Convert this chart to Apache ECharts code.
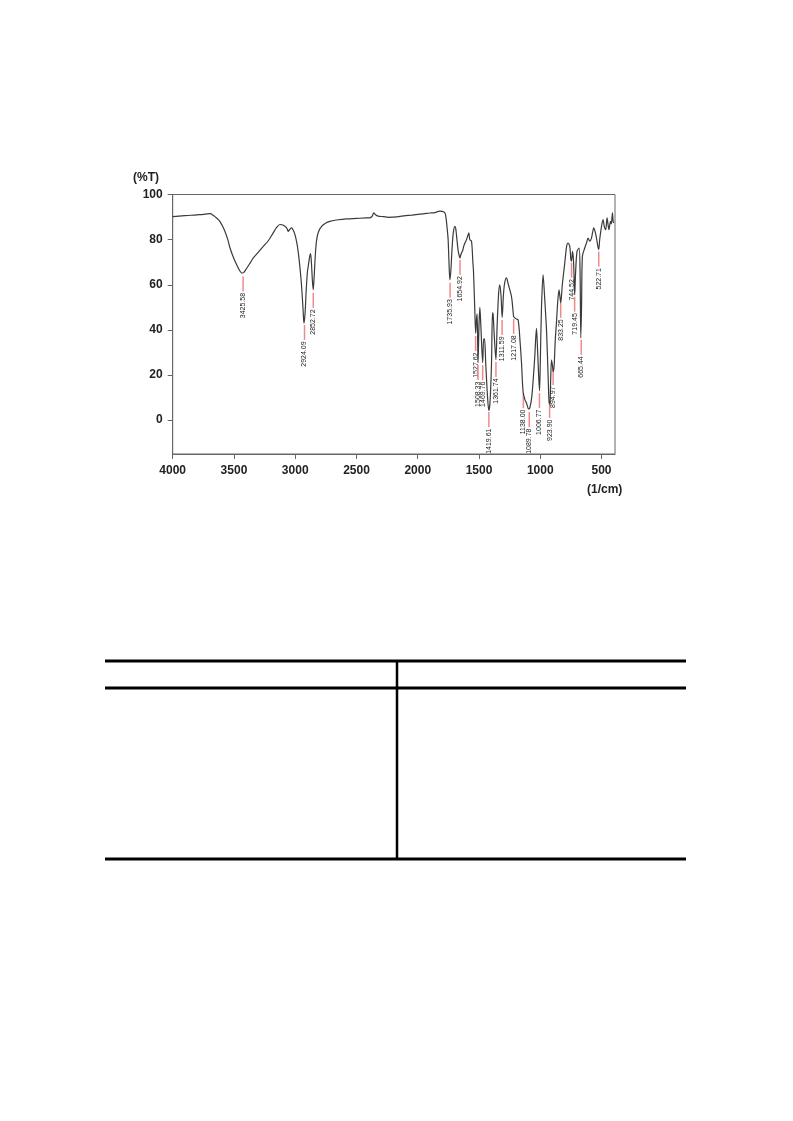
<!DOCTYPE html>
<html>
<head>
<meta charset="utf-8">
<script src="https://cdn.jsdelivr.net/npm/echarts@6/dist/echarts.min.js"></script>
<style>
html,body{margin:0;padding:0;background:#fff;}
#c{width:793px;height:1121px;}
</style>
</head>
<body>
<div id="c"></div>
<script>
// ---- data ----
const wavenumbers = [4000,3950,3900,3850,3800,3750,3720,3694,3670,3640,3614,3580,3550,3532,3500,3470,3450,3437,3420,3400,3370,3342,3300,3261,3220,3180,3150,3125,3100,3070,3057,3045,3029,3015,3002,2985,2970,2955,2945,2935,2929,2920,2910,2900,2894,2882,2875,2868,2860,2853,2845,2835,2825,2810,2785,2750,2717,2650,2581,2500,2420,2391,2370,2360,2345,2323,2280,2240,2200,2173,2100,2050,2000,1956,1900,1860,1820,1800,1779,1770,1760,1752,1745,1738,1730,1720,1710,1697,1690,1680,1670,1660,1656,1650,1640,1635,1625,1615,1602,1590,1583,1575,1561,1550,1545,1535,1527,1520,1515,1508,1500,1493,1485,1470,1462,1455,1445,1430,1420,1410,1398,1390,1385,1375,1362,1352,1340,1330,1320,1311,1300,1290,1276,1260,1235,1225,1218,1214,1200,1181,1165,1153,1140,1125,1112,1095,1085,1070,1058,1045,1031,1025,1015,1006,1000,990,977,965,949,935,928,921,915,908,900,895,887,878,868,858,847,840,833,820,800,785,773,759,751,745,737,728,719,712,700,683,675,669,663,656,637,620,610,596,582,563,550,541,530,523,515,500,487,478,466,455,445,439,427,420,411,405,400];
const transmittance = [90.2,90.4,90.6,90.8,91.0,91.2,91.4,91.5,90.8,89.5,88.0,84.5,80,76.3,71.5,68,66,65.2,65.5,67,69.5,71.9,74.5,77,79.5,83,85.5,86.7,86.5,85.2,83.7,84.5,85.2,84,82.2,78,72,64,57,48,43,47,58,66,68.1,72.5,73.8,70,62,57.8,64,74,80,83.5,85.9,87.4,88.1,88.8,89.2,89.4,89.6,89.6,90.5,91.9,91.0,90.4,90.2,89.9,90.0,90.1,90.6,90.9,91.2,91.4,91.8,92.0,92.6,92.5,91.9,90,85,80,70,62.2,66,76,83,85.9,85,80,75,72.5,71.9,73,74.5,74.8,77,78.5,80,82,83,80,79.3,70,66,50,38.5,45,47,25.5,42,50,42,25.5,36,36,25,10,4.2,8,25,47.5,47,37,26.8,42,56,60,55,45.5,56,61,63.1,60,54.8,50,46,45.9,45,44.4,35,25.3,12.5,9,7.5,5,5.5,10,17.8,28,40.7,35,22,13,25,50,64.4,55,40,18,8,7,18,26.7,24,21.5,24,35,43,52,57.8,55,52,60,69.6,77,78.5,77,71.5,70.5,74.8,70,55.5,65,74.8,76.3,65,36.5,50,72.6,76.3,79,80.7,79.3,80.7,85.2,83,80.7,77,75.6,80,85.9,88.9,86,84.4,89.6,86,84.4,88.1,87,91.9,88,87.4];

const peakLabels = ["3425.58","2924.09","2852.72","1735.93","1654.92","1527.62","1508.33","1469.76","1419.61","1361.74","1311.59","1217.08","1138.00","1089.78","1006.77","923.90","894.97","833.25","744.52","719.45","665.44","522.71"];
const peakWn = [3425.58,2924.09,2852.72,1735.93,1654.92,1527.62,1508.33,1469.76,1419.61,1361.74,1311.59,1217.08,1138.00,1089.78,1006.77,923.90,894.97,833.25,744.52,719.45,665.44,522.71];
const peakMarkT = [63.7,42.2,56.4,60.9,71.1,37.3,24.4,24.4,3.6,25.8,44.4,44.9,12,3.6,12,7.6,22.2,52,69.8,54.7,35.6,74.7];

const xTicks = [4000,3500,3000,2500,2000,1500,1000,500];
const yTicks = [0,20,40,60,80,100];
const xUnit = "(1/cm)";
const yUnit = "(%T)";

// ---- chart ----
const spectrum = wavenumbers.map((w,i)=>[w, transmittance[i]]);
const peaks = peakWn.map((w,i)=>[w, peakMarkT[i]]);

const chart = echarts.init(document.getElementById('c'), null, {renderer:'canvas'});
const FONT = "'Liberation Sans', Arial, sans-serif";
const axisColor = '#666';

chart.setOption({
  animation:false,
  backgroundColor:'#fff',
  grid:{left:172.7, right:178, top:194.5, bottom:667, show:true, borderColor:axisColor, borderWidth:1},
  xAxis:{
    type:'value', inverse:true, min:390, max:4000,
    axisLine:{onZero:false, lineStyle:{color:axisColor,width:1}},
    axisTick:{show:true, length:5, inside:false, customValues:xTicks, lineStyle:{color:axisColor}},
    axisLabel:{customValues:xTicks, margin:11, color:'#222', fontFamily:FONT, fontWeight:'bold', fontSize:12,
      formatter:function(v){return String(v);}},
    splitLine:{show:false}
  },
  yAxis:{
    type:'value', min:-15, max:100,
    axisLine:{show:true, onZero:false, lineStyle:{color:axisColor,width:1}},
    axisTick:{show:true, length:5, inside:false, customValues:yTicks, lineStyle:{color:axisColor}},
    axisLabel:{customValues:yTicks, margin:10, color:'#222', fontFamily:FONT, fontWeight:'bold', fontSize:12,
      formatter:function(v){return String(v);}},
    splitLine:{show:false}
  },
  graphic:[
    {type:'text', left:133, top:172, style:{text:yUnit, font:"bold 12px 'Liberation Sans', Arial", fill:'#222'}},
    {type:'text', left:587, top:484, style:{text:xUnit, font:"bold 12px 'Liberation Sans', Arial", fill:'#222'}},
    // table lines
    {type:'line', shape:{x1:105,y1:661,x2:686,y2:661}, style:{stroke:'#000',lineWidth:3}},
    {type:'line', shape:{x1:105,y1:688,x2:686,y2:688}, style:{stroke:'#000',lineWidth:3}},
    {type:'line', shape:{x1:105,y1:859,x2:686,y2:859}, style:{stroke:'#000',lineWidth:3}},
    {type:'line', shape:{x1:397,y1:661,x2:397,y2:859}, style:{stroke:'#000',lineWidth:2.5}}
  ],
  series:[
    {
      type:'line', data:spectrum, showSymbol:false, smooth:0.3,
      lineStyle:{color:'#3a3a3a', width:1.2}, z:3
    },
    {
      type:'custom', data:peaks, z:2,
      renderItem:function(params, api){
        const p = api.coord([api.value(0), api.value(1)]);
        const label = peakLabels[params.dataIndex];
        return {type:'group', children:[
          {type:'line', shape:{x1:p[0],y1:p[1],x2:p[0],y2:p[1]+15}, style:{stroke:'#f08a8a', lineWidth:1.5}},
          {type:'text', x:p[0], y:p[1]+16.5, rotation:Math.PI/2,
           style:{text:label, textAlign:'right', textVerticalAlign:'middle', font:"7px 'Liberation Sans', Arial", fill:'#222'}}
        ]};
      }
    }
  ]
});
</script>
</body>
</html>
